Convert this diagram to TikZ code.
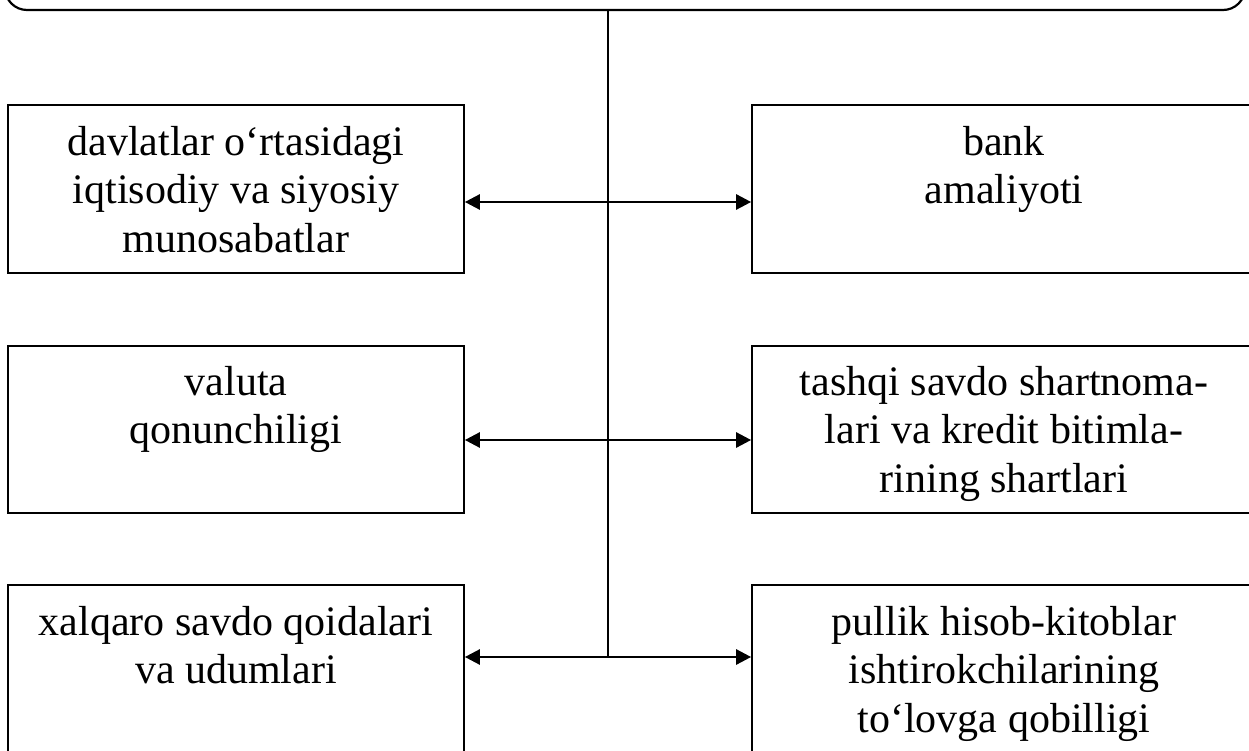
\documentclass[tikz,border=0pt]{standalone}
\usepackage{fontspec}
\setmainfont{Liberation Serif}
\usetikzlibrary{arrows.meta}
\newcommand{\firststrut}{\rule{0pt}{30pt}}
\begin{document}
\begin{tikzpicture}[x=1pt,y=-1pt,
  box/.style={draw, line width=1.7pt, rectangle, inner sep=0pt},
  txt/.style={anchor=north, inner sep=0pt, align=center,
    font=\fontsize{42pt}{48.5pt}\selectfont},
  conn/.style={line width=2.6pt, {Triangle[length=15pt,width=15pt]}-{Triangle[length=15pt,width=15pt]}},
  trunk/.style={line width=1.6pt}]
\fill[white] (0,0) rectangle (1249,751);
\path[use as bounding box, clip] (0,0) rectangle (1249,751);
% top rounded box (cut off)
\node[draw, line width=2.2pt, rounded corners=22pt, minimum width=1240pt, minimum height=100pt, inner sep=0pt] (top) at (625,-40) {};
% boxes
\node[box, minimum width=456pt, minimum height=168pt] (L1) at (236,189) {};
\node[box, minimum width=456pt, minimum height=167pt] (L2) at (236,429.5) {};
\node[box, minimum width=456pt, minimum height=200pt] (L3) at (236,685) {};
\node[box, minimum width=504pt, minimum height=168pt] (R1) at (1004,189) {};
\node[box, minimum width=504pt, minimum height=167pt] (R2) at (1004,429.5) {};
\node[box, minimum width=504pt, minimum height=200pt] (R3) at (1004,685) {};
% texts
\node[txt] (tL1) at (236,125) {\firststrut davlatlar o‘rtasidagi\\iqtisodiy va siyosiy\\munosabatlar};
\node[txt] (tR1) at (1004,125) {\firststrut bank\\amaliyoti};
\node[txt] (tL2) at (236,365) {\firststrut valuta\\qonunchiligi};
\node[txt] (tR2) at (1004,365) {\firststrut tashqi savdo shartnoma-\\lari va kredit bitimla-\\rining shartlari};
\node[txt] (tL3) at (236,605) {\firststrut xalqaro savdo qoidalari\\va udumlari};
\node[txt] (tR3) at (1004,605) {\firststrut pullik hisob-kitoblar\\ishtirokchilarining\\to‘lovga qobilligi};
% junctions
\coordinate (j1) at (608,202);
\coordinate (j2) at (608,440);
\coordinate (j3) at (608,657);
\draw[trunk] (top.south -| j3) -- (j3);
\draw[conn] (L1.east |- j1) -- (R1.west |- j1);
\draw[conn] (L2.east |- j2) -- (R2.west |- j2);
\draw[conn] (L3.east |- j3) -- (R3.west |- j3);
\end{tikzpicture}
\end{document}
